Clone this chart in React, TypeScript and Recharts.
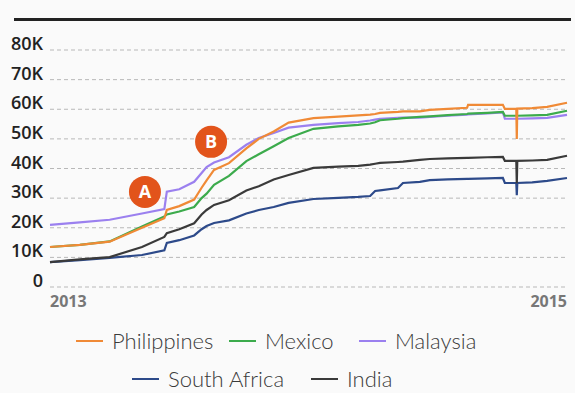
import React from "react";
import { LineChart, Line, XAxis, YAxis, CartesianGrid, ReferenceDot } from "recharts";

// weeks since start of 2013
const weeks = [0, 6, 12, 18.5, 23, 23.5, 26, 29, 30.5, 31.5, 33, 36, 39.5, 42, 45, 48, 53, 58, 62, 64.4, 65.4, 66.4, 70, 71, 74.4, 76.4, 80, 83.9, 84.1, 88, 91.1, 91.5, 93.8, 93.9, 94.0, 97, 100, 104];

// values in thousands
const philippines = [13.5, 14.2, 15.3, 20, 23.2, 26, 27.3, 29.5, 33.5, 36, 39.5, 41.8, 46.8, 50, 52.5, 55.5, 57, 57.5, 57.9, 58.2, 58.4, 58.8, 59.1, 59.3, 59.3, 59.8, 60.1, 60.5, 61.5, 61.5, 61.5, 60.1, 60.2, 50, 60.2, 60.4, 60.8, 62.2];
const mexico = [13.5, 14.2, 15.4, 20.4, 23.8, 24.5, 25.5, 27, 30, 31.5, 34.5, 37.5, 42.5, 44.8, 47.5, 50.3, 53.4, 54.2, 54.7, 55.2, 55.6, 56.3, 56.8, 57, 57.4, 57.6, 58, 58.4, 58.5, 58.8, 59.1, 57.8, 57.8, 57.8, 57.8, 57.9, 58.1, 59.5];
const malaysia = [21, 21.8, 22.7, 24.8, 26.3, 32.2, 33, 35.5, 38.5, 40.5, 42, 43.8, 48, 50.3, 52, 53.8, 54.7, 55.3, 55.7, 56.2, 56.5, 56.8, 57.1, 57.2, 57.2, 57.4, 57.8, 58.2, 58.3, 58.6, 58.9, 56.8, 56.8, 56.8, 56.8, 56.9, 57.1, 58.1];
const southAfrica = [8.4, 9.1, 9.8, 10.8, 12.4, 14.9, 15.8, 17.4, 19.5, 20.6, 21.6, 22.5, 24.8, 26, 27, 28.4, 29.7, 30.1, 30.4, 30.7, 32.4, 32.6, 33.4, 35.1, 35.5, 36.1, 36.3, 36.5, 36.5, 36.7, 36.8, 35.1, 35.1, 31, 35.1, 35.3, 35.8, 36.8];
const india = [8.4, 9.3, 10.1, 13.5, 16.9, 18.2, 19.5, 21.5, 24.5, 26, 27.7, 29.3, 32.6, 34, 36.3, 37.8, 40.2, 40.6, 40.9, 41.3, 41.6, 41.9, 42.2, 42.3, 42.9, 43.2, 43.4, 43.6, 43.6, 43.8, 43.9, 42.6, 42.6, 35, 42.6, 42.7, 42.9, 44.3];

const yTicks = [0, 10, 20, 30, 40, 50, 60, 70, 80];
const xTicks = [0, 104];
const xLabels = ["2013", "2015"];

const annotations = [
  { label: "A", week: 19.1, value: 32.1 },
  { label: "B", week: 32.4, value: 49 },
];

const series = [
  { key: "southAfrica", name: "South Africa", color: "#2d4a8a", values: southAfrica },
  { key: "india", name: "India", color: "#3a3a3a", values: india },
  { key: "malaysia", name: "Malaysia", color: "#9b80ef", values: malaysia },
  { key: "mexico", name: "Mexico", color: "#3cab4c", values: mexico },
  { key: "philippines", name: "Philippines", color: "#f08a36", values: philippines },
];

const data = weeks.map((w, i) => {
  const row: any = { week: w };
  series.forEach((s) => {
    row[s.key] = s.values[i];
  });
  return row;
});

const legendRows = [
  [
    { key: "philippines", left: 76 },
    { key: "mexico", left: 229 },
    { key: "malaysia", left: 359 },
  ],
  [
    { key: "southAfrica", left: 132 },
    { key: "india", left: 311 },
  ],
];

const YTick = (props: any) => {
  const { x, y, payload } = props;
  const v = payload.value;
  return (
    <text x={x} y={y} textAnchor="end" fill="#222" fontFamily="'Open Sans', sans-serif" fontWeight={600} fontSize={18}>
      {v === 0 ? "0" : `${v}K`}
    </text>
  );
};

const XTick = (props: any) => {
  const { x, y, payload } = props;
  const idx = xTicks.indexOf(payload.value);
  return (
    <text x={x} y={y + 20} textAnchor={idx === 0 ? "start" : "end"} fill="#777" fontFamily="'Open Sans', sans-serif" fontWeight={700} fontSize={16}>
      {xLabels[idx]}
    </text>
  );
};

export default function App() {
  return (
    <div style={{ position: "absolute", left: 0, top: 0, width: 575, height: 393, background: "#fafafa", overflow: "hidden" }}>
      <div style={{ position: "absolute", left: 14, top: 18, width: 557, height: 3, background: "#222" }} />
      <LineChart width={575} height={393} data={data} margin={{ top: 50, right: 8, bottom: 76, left: 0 }}>
        <CartesianGrid vertical={false} strokeDasharray="4 3" stroke="#b8b8b8" />
        <YAxis
          type="number"
          domain={[0, 80]}
          ticks={yTicks}
          width={50}
          axisLine={false}
          tickLine={false}
          tickSize={0}
          tickMargin={7}
          tick={<YTick />}
          interval={0}
        />
        <XAxis
          type="number"
          dataKey="week"
          domain={[0, 104]}
          ticks={xTicks}
          height={30}
          axisLine={false}
          tickLine={false}
          tickSize={0}
          tickMargin={0}
          tick={<XTick />}
          interval={0}
        />
        {series.map((s) => (
          <Line
            key={s.key}
            type="linear"
            dataKey={s.key}
            stroke={s.color}
            strokeWidth={2.2}
            dot={false}
            isAnimationActive={false}
          />
        ))}
        {annotations.map((a) => (
          <ReferenceDot
            key={a.label}
            x={a.week}
            y={a.value}
            r={16}
            shape={(p: any) => (
              <g>
                <circle cx={p.cx} cy={p.cy} r={16} fill="#e2541b" />
                <text x={p.cx} y={p.cy + 6.5} textAnchor="middle" fill="#fff" fontFamily="'Open Sans', sans-serif" fontWeight={700} fontSize={18}>
                  {a.label}
                </text>
              </g>
            )}
          />
        ))}
      </LineChart>
      {legendRows.map((row, ri) => (
        <div key={ri} style={{ position: "absolute", top: ri === 0 ? 327 : 365, left: 0, width: 575, height: 28 }}>
          {row.map((item) => {
            const s = series.find((x) => x.key === item.key)!;
            return (
              <div key={item.key} style={{ position: "absolute", left: item.left, top: 0, height: 28, display: "flex", alignItems: "center", whiteSpace: "nowrap" }}>
                <div style={{ width: 27, height: 2.5, background: s.color, marginRight: 9 }} />
                <span style={{ fontFamily: "Lato, sans-serif", fontWeight: 300, fontSize: 22, color: "#3a3a3a", lineHeight: "28px" }}>{s.name}</span>
              </div>
            );
          })}
        </div>
      ))}
    </div>
  );
}
